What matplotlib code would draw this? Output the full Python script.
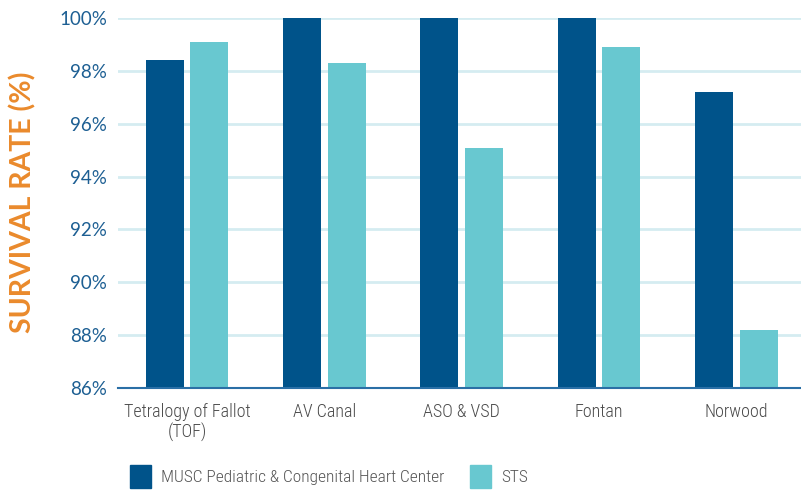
import numpy as np
import matplotlib
matplotlib.use('Agg')
import matplotlib.pyplot as plt
from matplotlib.patches import Patch

plt.rcParams['font.family'] = ['Lato', 'DejaVu Sans']
narrow = ['Roboto Condensed', 'DejaVu Sans']

categories = ['Tetralogy of Fallot\n(TOF)', 'AV Canal', 'ASO & VSD', 'Fontan', 'Norwood']
musc = [98.4, 100.0, 100.0, 100.0, 97.2]
sts = [99.1, 98.3, 95.1, 98.9, 88.2]
yticks = [86, 88, 90, 92, 94, 96, 98, 100]

dark = '#00538a'
light = '#68c8d0'
tickcol = '#1d5f93'

fig = plt.figure(figsize=(8.01, 4.91), dpi=100)
ax = fig.add_axes([0.1473, 0.2098, 0.8527, 0.7535])

x = np.arange(len(categories))
w = 0.277
off = 0.163
ax.bar(x - off, musc, w, color=dark, zorder=3)
ax.bar(x + off, sts, w, color=light, zorder=3)

ax.set_ylim(86, 100)
ax.set_xlim(-0.502, 4.47)
ax.set_yticks(yticks)
ax.set_yticklabels([f'{v}%' for v in yticks], fontsize=13.5, color=tickcol)
ax.set_xticks(x)
ax.set_xticklabels(categories, fontsize=13, color='#4a4a4a', linespacing=1.1,
                   family=narrow, fontweight='light')
ax.tick_params(axis='both', length=0)
ax.tick_params(axis='y', pad=8)
ax.tick_params(axis='x', pad=11)

ax.grid(axis='y', color='#d5ecf1', linewidth=2, zorder=0)
for s in ['top', 'right', 'left']:
    ax.spines[s].set_visible(False)
ax.spines['bottom'].set_color('#2a6fa6')
ax.spines['bottom'].set_linewidth(1.5)
ax.spines['bottom'].set_zorder(4)

fig.text(0.028, 0.588, 'SURVIVAL RATE (%)', rotation=90, ha='center', va='center',
         fontsize=20.5, fontweight='bold', color='#ea8a2c')

handles = [Patch(color=dark), Patch(color=light)]
fig.legend(handles, ['MUSC Pediatric & Congenital Heart Center', 'STS'],
           loc='center left', bbox_to_anchor=(0.162, 0.029), ncol=2, frameon=False,
           prop={'family': narrow, 'size': 12.5, 'weight': 'light'},
           handlelength=1.2, handleheight=1.65,
           columnspacing=1.5, handletextpad=0.6, labelcolor='#555555',
           borderpad=0, borderaxespad=0)

fig.savefig('out.png', dpi=100)
